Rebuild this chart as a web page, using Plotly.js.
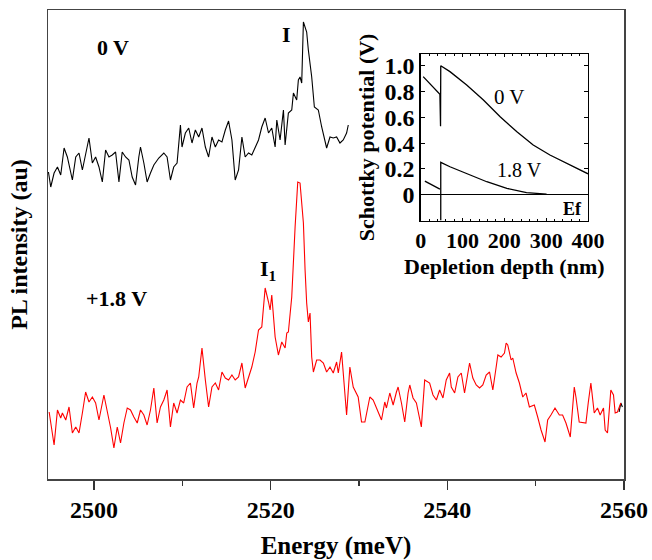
<!DOCTYPE html>
<html>
<head>
<meta charset="utf-8">
<script src="https://cdn.plot.ly/plotly-3.0.1.min.js"></script>
<style>html,body{margin:0;padding:0;background:#fff;}#chart{width:652px;height:560px;}</style>
</head>
<body>
<div id="chart"></div>
<script>
// PL spectrum at 0 V (black)
const energy0V = [2494.85,2495.11,2495.49,2495.87,2496.24,2496.62,2496.99,2497.56,2497.94,2498.31,2498.69,2499.06,2499.44,2499.82,2500.19,2500.57,2500.95,2501.32,2501.70,2502.07,2502.45,2502.83,2503.20,2503.58,2503.96,2504.33,2504.71,2505.08,2505.27,2505.65,2506.02,2506.40,2506.78,2507.34,2507.91,2508.28,2508.66,2509.03,2509.41,2509.79,2509.97,2510.35,2510.73,2511.10,2511.48,2511.86,2512.23,2512.61,2512.98,2513.36,2513.74,2514.11,2514.49,2514.87,2515.24,2515.62,2515.99,2516.37,2516.75,2517.12,2517.50,2517.87,2518.25,2518.63,2519.00,2519.38,2519.76,2520.13,2520.51,2520.70,2521.07,2521.45,2521.64,2522.01,2522.39,2522.58,2522.95,2523.14,2523.33,2523.52,2523.71,2524.08,2524.27,2524.65,2524.95,2525.40,2525.78,2526.08,2526.34,2526.72,2527.09,2527.47,2527.85,2528.22,2528.60,2528.79,null,2559.45,2559.64,2559.82];
const intensity0V = [312,297,311,317,309,336,327,304,327,331,314,331,346,321,327,317,302,334,327,329,332,302,332,327,324,307,299,327,337,321,302,311,319,326,331,327,304,317,321,359,337,351,356,341,354,347,356,337,327,347,337,344,342,354,363,344,304,314,347,327,331,329,337,344,357,366,351,356,337,364,344,374,339,371,374,391,384,404,407,401,462,452,434,407,377,374,357,344,336,347,346,347,341,344,351,359,null,72,81,77];

// PL spectrum at +1.8 V (red)
const energy18V = [2494.93,2495.49,2495.87,2496.24,2496.43,2496.81,2497.18,2497.56,2497.94,2498.31,2498.69,2499.06,2499.44,2499.82,2500.19,2500.57,2501.13,2501.51,2501.89,2502.26,2502.64,2503.01,2503.39,2503.77,2504.14,2504.52,2504.90,2505.27,2505.65,2506.02,2506.40,2506.78,2507.15,2507.53,2507.91,2508.28,2508.66,2509.03,2509.41,2509.79,2510.16,2510.54,2510.92,2511.29,2511.67,2511.86,2512.23,2512.61,2512.98,2513.36,2513.74,2514.11,2514.49,2514.87,2515.24,2515.62,2515.99,2516.37,2516.75,2517.12,2517.50,2517.87,2518.25,2518.63,2519.00,2519.38,2519.76,2519.94,2520.13,2520.51,2520.88,2521.26,2521.64,2521.83,2522.01,2522.39,2522.77,2523.07,2523.33,2523.71,2523.90,2524.08,2524.27,2524.46,2524.65,2524.84,2525.21,2525.59,2525.97,2526.34,2526.72,2527.09,2527.47,2527.66,2528.03,2528.22,2528.60,2528.97,2529.35,2529.91,2530.29,2530.67,2531.23,2531.61,2532.17,2532.55,2532.92,2533.11,2533.49,2533.87,2534.24,2534.43,2534.81,2535.18,2535.56,2535.75,2536.12,2536.50,2537.06,2537.44,2538.00,2538.38,2538.76,2539.13,2539.51,2539.88,2540.26,2540.45,2540.83,2541.20,2541.58,2541.95,2542.52,2542.89,2543.27,2543.65,2544.02,2544.40,2544.78,2545.15,2545.53,2545.72,2546.09,2546.47,2546.66,2546.84,2547.22,2547.41,2547.79,2548.16,2548.54,2548.91,2549.29,2549.85,2550.23,2550.61,2551.06,2551.36,2551.73,2552.19,2552.68,2553.05,2553.43,2553.92,2554.37,2554.56,2554.93,2555.50,2555.69,2555.95,2556.25,2556.63,2557.00,2557.30,2557.68,2557.87,2558.13,2558.51,2558.81,2559.00,2559.26,2559.64];
const intensity18V = [72,39,74,66,71,64,77,51,57,51,71,92,82,87,81,64,89,74,56,36,57,41,61,76,74,67,61,74,69,59,74,96,61,77,84,94,57,81,71,84,81,97,101,76,101,107,136,104,77,97,101,94,112,106,104,109,104,107,121,96,107,117,132,154,157,196,182,174,189,147,129,142,136,151,152,187,257,302,301,261,214,181,162,171,127,112,124,124,121,112,117,111,122,111,132,112,69,117,97,87,62,62,87,84,72,64,82,76,91,79,92,97,81,62,91,99,86,81,57,104,101,89,84,94,86,104,111,97,91,107,111,91,121,106,99,96,99,109,112,94,117,129,127,131,141,139,124,126,111,101,87,91,77,79,67,54,42,64,69,76,69,69,61,47,97,87,62,61,61,81,101,71,76,69,76,54,51,94,89,71,72,81];

// Inset: Schottky potential vs depletion depth
const depth0V = [6,46,47.5,48,70,110,150,190,230,269,309,349,393,400];
const potential0V = [0.915,0.778,0.53,1.0,0.954,0.850,0.734,0.605,0.488,0.385,0.308,0.243,0.171,0.162];
const depth18V = [10,46,null,48,48,70,110,158,206,253,301];
const potential18V = [0.106,0.044,null,-0.2,0.251,0.217,0.166,0.101,0.050,0.016,0.005];

const mainTicks = [2500,2520,2540,2560];
const insetXTicks = [0,100,200,300,400];
const insetYTicks = [0,0.2,0.4,0.6,0.8,1.0];
const insetYTickText = ['0','0.2','0.4','0.6','0.8','1.0'];

const serif = 'Liberation Serif, Times New Roman, serif';
const fBold = (s) => ({family: serif, size: s, color: '#000', weight: 'bold'});
const fNorm = (s) => ({family: serif, size: s, color: '#000'});

const traces = [
  {x: energy0V, y: intensity0V, type: 'scatter', mode: 'lines', line: {color: '#000', width: 1.1}, connectgaps: false, xaxis: 'x', yaxis: 'y', hoverinfo: 'skip'},
  {x: energy18V, y: intensity18V, type: 'scatter', mode: 'lines', line: {color: '#ff0000', width: 1.1}, xaxis: 'x', yaxis: 'y', hoverinfo: 'skip'},
  {x: depth0V, y: potential0V, type: 'scatter', mode: 'lines', line: {color: '#000', width: 1.3}, xaxis: 'x2', yaxis: 'y2', hoverinfo: 'skip'},
  {x: depth18V, y: potential18V, type: 'scatter', mode: 'lines', line: {color: '#000', width: 1.3}, connectgaps: false, xaxis: 'x2', yaxis: 'y2', hoverinfo: 'skip'}
];

const layout = {
  width: 652, height: 560,
  margin: {l: 48, r: 28, t: 10, b: 81},
  paper_bgcolor: '#fff', plot_bgcolor: '#fff',
  showlegend: false,
  xaxis: {
    range: [2494.8, 2560], domain: [0, 1],
    tickvals: mainTicks, ticks: 'outside', ticklen: 9, tickwidth: 1.3, tickcolor: '#333',
    minor: {dtick: 10, tick0: 2500, ticks: 'outside', ticklen: 5, tickwidth: 1.3, tickcolor: '#333', showgrid: false},
    showline: true, linecolor: '#444', linewidth: 1.5, mirror: true,
    showgrid: false, zeroline: false,
    tickfont: fBold(24),
    title: {text: 'Energy (meV)', font: fBold(25), standoff: 16}
  },
  yaxis: {
    range: [5, 474], domain: [0, 1],
    showticklabels: false, ticks: '',
    showline: true, linecolor: '#444', linewidth: 1.5, mirror: true,
    showgrid: false, zeroline: false,
    title: {text: 'PL intensity (au)', font: fBold(24), standoff: 12}
  },
  xaxis2: {
    anchor: 'y2', domain: [0.647, 0.9375], range: [0, 400],
    tickvals: insetXTicks, ticks: 'inside', ticklen: 3, tickcolor: '#000',
    minor: {dtick: 20, ticks: 'inside', ticklen: 2, tickcolor: '#000', showgrid: false},
    showline: true, linecolor: '#000', linewidth: 1.3, mirror: 'allticks',
    showgrid: false, zeroline: false,
    tickfont: fBold(22),
    title: {text: 'Depletion depth (nm)', font: fBold(22), standoff: 6}
  },
  yaxis2: {
    anchor: 'x2', domain: [0.551, 0.9055], range: [-0.2, 1.088],
    tickvals: insetYTicks, ticktext: insetYTickText, ticks: 'inside', ticklen: 4, tickcolor: '#000',
    showline: true, linecolor: '#000', linewidth: 1.3, mirror: 'ticks',
    showgrid: false, zeroline: true, zerolinecolor: '#000', zerolinewidth: 1.2,
    tickfont: fBold(24),
    title: {text: 'Schottky potential (V)', font: fBold(22), standoff: 4}
  },
  annotations: [
    {text: '0 V', xref: 'paper', yref: 'paper', x: 0.113, y: 0.921, showarrow: false, font: fBold(22), xanchor: 'center', yanchor: 'middle'},
    {text: 'I', xref: 'paper', yref: 'paper', x: 0.4145, y: 0.947, showarrow: false, font: fBold(22), xanchor: 'center', yanchor: 'middle'},
    {text: 'I<sub>1</sub>', xref: 'paper', yref: 'paper', x: 0.382, y: 0.4456, showarrow: false, font: fBold(22), xanchor: 'center', yanchor: 'middle'},
    {text: '+1.8 V', xref: 'paper', yref: 'paper', x: 0.119, y: 0.385, showarrow: false, font: fBold(22), xanchor: 'center', yanchor: 'middle'},
    {text: '0 V', xref: 'paper', yref: 'paper', x: 0.802, y: 0.815, showarrow: false, font: fNorm(21), xanchor: 'center', yanchor: 'middle'},
    {text: '1.8 V', xref: 'paper', yref: 'paper', x: 0.819, y: 0.659, showarrow: false, font: fNorm(20), xanchor: 'center', yanchor: 'middle'},
    {text: 'Ef', xref: 'paper', yref: 'paper', x: 0.911, y: 0.5757, showarrow: false, font: fBold(18), xanchor: 'center', yanchor: 'middle'}
  ]
};

Plotly.newPlot('chart', traces, layout, {staticPlot: true, displayModeBar: false});
</script>
</body>
</html>
